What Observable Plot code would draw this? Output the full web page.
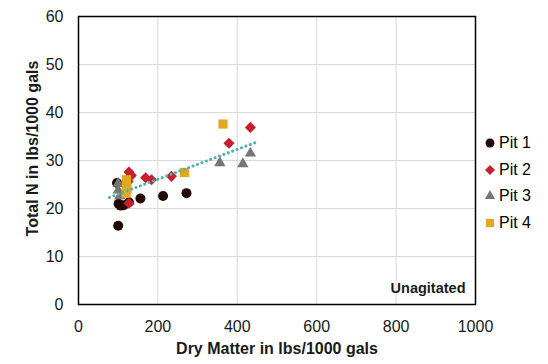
<!DOCTYPE html>
<html><head><meta charset="utf-8">
<script src="https://cdn.jsdelivr.net/npm/d3@7"></script>
<script src="https://cdn.jsdelivr.net/npm/@observablehq/plot@0.6"></script>
<style>
body{margin:0;background:#fff;font-family:"Liberation Sans",Arial,sans-serif;}
#wrap{position:relative;width:548px;height:364px;}
.item{position:absolute;left:484px;height:20px;display:flex;align-items:center;font-size:16px;color:#000;white-space:nowrap;font-family:"Liberation Sans",Arial,sans-serif;}
.item svg{display:block;margin-right:3px;}
</style></head><body><div id="wrap"></div>
<script>
const pits = ["Pit 1", "Pit 2", "Pit 3", "Pit 4"];
const colors = ["#230808", "#c61f2d", "#767676", "#e2a822"];
const symbols = ["circle", "diamond2", "triangle", "square"];

const pit1X = [97, 101, 106, 114, 127, 100, 156, 213, 272];
const pit1Y = [25.3, 21.0, 20.6, 20.7, 21.3, 16.4, 22.1, 22.6, 23.2];
const pit2X = [127, 133, 127, 169, 184, 234, 379, 433, 125];
const pit2Y = [27.6, 26.9, 21.1, 26.4, 26.0, 26.7, 33.6, 36.9, 25.6];
const pit3X = [100, 100, 104, 356, 414, 433];
const pit3Y = [25.2, 23.8, 22.6, 29.5, 29.3, 31.5];
const pit4X = [121, 121, 122, 120, 267, 364];
const pit4Y = [26.0, 25.0, 24.0, 23.2, 27.5, 37.6];

const trendX = [78, 454];
const trendY = [22.3, 34.0];

const xTicks = [0, 200, 400, 600, 800, 1000];
const yTicks = [0, 10, 20, 30, 40, 50, 60];
const xTitle = "Dry Matter in lbs/1000 gals";
const yTitle = "Total N in lbs/1000 gals";
const note = "Unagitated";

const series = [[pit1X, pit1Y], [pit2X, pit2Y], [pit3X, pit3Y], [pit4X, pit4Y]];
const rows = series.map(([xs, ys], i) => xs.map((x, j) => ({pit: pits[i], x, y: ys[j]})));
const trend = trendX.map((x, i) => ({x, y: trendY[i]}));
const rSizes = [5, 5, 4.2, 5.2];

const font = "Liberation Sans, Arial, sans-serif";
const chart = Plot.plot({
  width: 548, height: 364,
  marginLeft: 78, marginRight: 73, marginTop: 16, marginBottom: 60,
  style: {fontFamily: font, background: "#fff", color: "#000"},
  x: {domain: [0, 1000]},
  y: {domain: [0, 60]},
  marks: [
    Plot.gridX(xTicks, {stroke: "#d9d9d9", strokeOpacity: 1, strokeWidth: 1}),
    Plot.gridY(yTicks, {stroke: "#d9d9d9", strokeOpacity: 1, strokeWidth: 1}),
    Plot.axisX(xTicks, {tickSize: 0, tickPadding: 16, fontSize: 16, label: null, fill: "#1a1a1a", tickFormat: d => String(d)}),
    Plot.axisY(yTicks, {tickSize: 0, tickPadding: 15, fontSize: 16, label: null, fill: "#1a1a1a", tickFormat: d => String(d)}),
    ...rows.map((d, i) => Plot.dot(d, {x: "x", y: "y", symbol: () => symbols[i], fill: colors[i], r: rSizes[i], stroke: "none"})),
    Plot.line(trend, {x: "x", y: "y", stroke: "#4fb3aa", strokeWidth: 3, strokeDasharray: "0.1,4.6", strokeLinecap: "round"}),
    Plot.frame({stroke: "#000", strokeWidth: 1.5}),
    Plot.text([xTitle], {frameAnchor: "bottom", dy: 49, fontSize: 16, fontWeight: "bold", fill: "#1a1a1a"}),
    Plot.text([yTitle], {frameAnchor: "left", textAnchor: "middle", dx: -46, dy: -12, rotate: -90, fontSize: 16, fontWeight: "bold", fill: "#1a1a1a"}),
    Plot.text([note], {frameAnchor: "bottom-right", dx: -10, dy: -12, fontSize: 14.5, fontWeight: "bold", textAnchor: "end", fill: "#1a1a1a"})
  ]
});
const wrap = document.getElementById("wrap");
wrap.appendChild(chart);

const d3sym = {circle: d3.symbolCircle, diamond2: d3.symbolDiamond2, triangle: d3.symbolTriangle, square: d3.symbolSquare};
const legendY = [143, 169.5, 196, 222.5];
const legR = [4.5, 4.5, 3.8, 4.5];
pits.forEach((p, i) => {
  const div = document.createElement("div");
  div.className = "item";
  div.style.top = (legendY[i] - 10) + "px";
  const path = d3.symbol(d3sym[symbols[i]], Math.PI * legR[i] * legR[i])();
  div.innerHTML = `<svg width="12" height="12" viewBox="-6 -6 12 12"><path d="${path}" fill="${colors[i]}"/></svg><span>${p}</span>`;
  wrap.appendChild(div);
});
</script>
</body></html>
